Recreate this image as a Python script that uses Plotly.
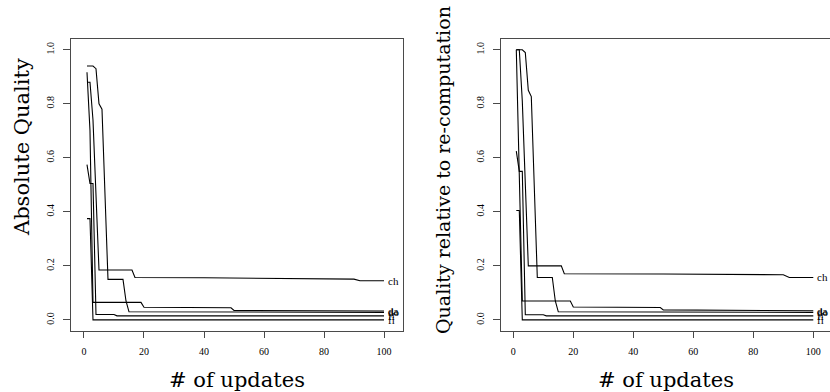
import plotly.graph_objects as go

# ---------------- data (breakpoints) ----------------
labels = ["ch", "da", "do", "fl", "fi"]

# Left panel: Absolute Quality
abs_ch_x = [1, 2, 3, 5, 16, 17, 40, 65, 90, 92, 100]
abs_ch_y = [0.88, 0.88, 0.74, 0.185, 0.185, 0.157, 0.156, 0.153, 0.151, 0.145, 0.145]
abs_da_x = [1, 2, 3, 19, 20, 49, 50, 100]
abs_da_y = [0.917, 0.70, 0.065, 0.065, 0.047, 0.045, 0.035, 0.033]
abs_do_x = [1, 3, 4, 5, 6, 8, 13, 14, 15, 100]
abs_do_y = [0.94, 0.94, 0.93, 0.80, 0.78, 0.15, 0.15, 0.07, 0.03, 0.028]
abs_fl_x = [1, 2, 3, 4, 10, 11, 100]
abs_fl_y = [0.575, 0.505, 0.505, 0.02, 0.02, 0.015, 0.015]
abs_fi_x = [1, 2, 3, 100]
abs_fi_y = [0.375, 0.375, 0.0, 0.0]

# Right panel: Quality relative to re-computation
rel_ch_x = [1, 2, 3, 5, 16, 17, 50, 75, 90, 92, 100]
rel_ch_y = [1.0, 1.0, 0.81, 0.2, 0.2, 0.171, 0.170, 0.168, 0.167, 0.157, 0.157]
rel_da_x = [1, 2, 3, 19, 20, 49, 50, 100]
rel_da_y = [1.0, 0.55, 0.07, 0.07, 0.048, 0.046, 0.037, 0.034]
rel_do_x = [1, 3, 4, 5, 6, 8, 13, 14, 15, 100]
rel_do_y = [1.0, 1.0, 0.99, 0.85, 0.827, 0.157, 0.157, 0.07, 0.03, 0.028]
rel_fl_x = [1, 2, 3, 4, 10, 11, 100]
rel_fl_y = [0.625, 0.55, 0.55, 0.019, 0.019, 0.015, 0.015]
rel_fi_x = [1, 2, 3, 100]
rel_fi_y = [0.405, 0.405, 0.0, 0.0]

x_ticks = [0, 20, 40, 60, 80, 100]
y_ticks = [0.0, 0.2, 0.4, 0.6, 0.8, 1.0]
y_tick_text = ["0.0", "0.2", "0.4", "0.6", "0.8", "1.0"]

left_series = [(abs_ch_x, abs_ch_y), (abs_da_x, abs_da_y), (abs_do_x, abs_do_y),
               (abs_fl_x, abs_fl_y), (abs_fi_x, abs_fi_y)]
right_series = [(rel_ch_x, rel_ch_y), (rel_da_x, rel_da_y), (rel_do_x, rel_do_y),
                (rel_fl_x, rel_fl_y), (rel_fi_x, rel_fi_y)]

# ---------------- layout geometry ----------------
W, H = 830, 392
AX = "#4a4a4a"
SERIF = "DejaVu Serif"
TIMES = "Liberation Serif"

fig = go.Figure()
for xs, ys in left_series:
    fig.add_trace(go.Scatter(x=xs, y=ys, mode="lines", xaxis="x", yaxis="y",
                             line=dict(color="black", width=1.1), showlegend=False,
                             hoverinfo="skip"))
for xs, ys in right_series:
    fig.add_trace(go.Scatter(x=xs, y=ys, mode="lines", xaxis="x2", yaxis="y2",
                             line=dict(color="black", width=1.1), showlegend=False,
                             hoverinfo="skip"))

annotations = []
for lab, (xs, ys) in zip(labels, left_series):
    annotations.append(dict(x=xs[-1], y=ys[-1], xref="x", yref="y", text=lab,
                            showarrow=False, xanchor="left", yanchor="middle",
                            xshift=2, font=dict(family=TIMES, size=11, color="black")))
for lab, (xs, ys) in zip(labels, right_series):
    annotations.append(dict(x=xs[-1], y=ys[-1], xref="x2", yref="y2", text=lab,
                            showarrow=False, xanchor="left", yanchor="middle",
                            xshift=2, font=dict(family=TIMES, size=11, color="black")))

annotations += [
    dict(x=237 / W, y=1 - 380 / H, xref="paper", yref="paper", text="# of updates",
         showarrow=False, xanchor="center", yanchor="middle",
         font=dict(family=SERIF, size=21, color="black")),
    dict(x=666 / W, y=1 - 380 / H, xref="paper", yref="paper", text="# of updates",
         showarrow=False, xanchor="center", yanchor="middle",
         font=dict(family=SERIF, size=21, color="black")),
    dict(x=22 / W, y=1 - 147 / H, xref="paper", yref="paper", text="Absolute Quality",
         showarrow=False, xanchor="center", yanchor="middle", textangle=-90,
         font=dict(family=SERIF, size=21, color="black")),
    dict(x=443 / W, y=1 - 170 / H, xref="paper", yref="paper",
         text="Quality relative to re-computation",
         showarrow=False, xanchor="center", yanchor="middle", textangle=-90,
         font=dict(family=SERIF, size=19, color="black")),
]

tick_font = dict(family=TIMES, size=10, color="black")
common_x = dict(tickmode="array", tickvals=x_ticks, ticks="outside", ticklen=6,
                tickcolor=AX, tickwidth=1, showline=True, linecolor=AX, linewidth=1,
                showgrid=False, zeroline=False, tickfont=tick_font, ticklabelstandoff=5,
                fixedrange=True)
common_y = dict(tickmode="array", tickvals=y_ticks, ticktext=y_tick_text, ticks="outside",
                ticklen=7, tickcolor=AX, tickwidth=1, showline=True, linecolor=AX,
                linewidth=1, showgrid=False, zeroline=False, tickfont=tick_font,
                tickangle=-90, ticklabelstandoff=5, range=[-0.04, 1.04], fixedrange=True)

y_dom = [(H - 330.7) / H, (H - 39) / H]

fig.update_layout(
    width=W, height=H,
    margin=dict(l=0, r=0, t=0, b=0),
    paper_bgcolor="white", plot_bgcolor="white",
    xaxis=dict(domain=[71 / W, 403.3 / W], range=[-4.33, 106.43], anchor="y",
               mirror=True, **common_x),
    yaxis=dict(domain=y_dom, anchor="x", mirror=True, **common_y),
    xaxis2=dict(domain=[501 / W, 1.0], range=[-4.1, 105.57], anchor="y2",
                mirror=True, **common_x),
    yaxis2=dict(domain=y_dom, anchor="x2", mirror=False, **common_y),
    annotations=annotations,
)

fig.write_html("out.html", config={"displayModeBar": False},
               post_script="document.body.style.margin='0px';document.body.style.overflow='hidden';")
